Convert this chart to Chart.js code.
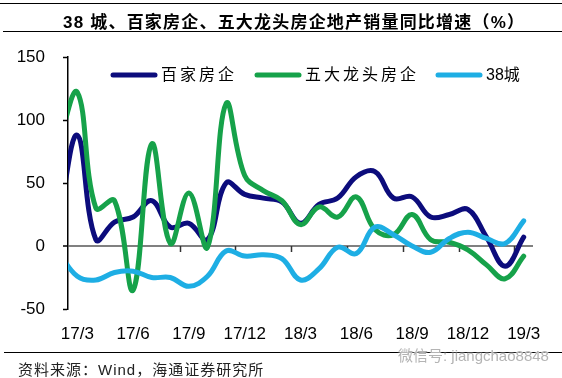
<!DOCTYPE html>
<html>
<head>
<meta charset="utf-8">
<script src="https://cdn.jsdelivr.net/npm/chart.js@4"></script>
<style>
  html, body { margin: 0; padding: 0; background: #fff; }
  #wrap { position: relative; width: 562px; height: 378px; overflow: hidden; }
  #chart { position: absolute; left: 0; top: 0; }
  .rule { position: absolute; height: 1px; background: #000; }
  #title {
    position: absolute; left: 63px; top: 8px; line-height: 24px; white-space: nowrap;
    font: bold 17px "Liberation Sans", "Noto Sans CJK SC", sans-serif; letter-spacing: 1.2px; color: #000;
  }
  #source {
    position: absolute; left: 18px; top: 358px; line-height: 20px; white-space: nowrap;
    font: 15px "Liberation Sans", "Noto Sans CJK SC", sans-serif; letter-spacing: 1px; color: #222;
  }
  #mark {
    position: absolute; left: 398px; top: 344px; line-height: 18px; white-space: nowrap;
    font: 15px "Liberation Sans", "Noto Sans CJK SC", sans-serif; color: #b4b4b4;
    text-shadow: 0 0 2px #fff, 0 0 2px #fff;
  }
</style>
</head>
<body>
<div id="wrap">
  <canvas id="chart" width="562" height="378"></canvas>
  <div class="rule" style="left:0; top:3px; width:562px;"></div>
  <div id="title">38 城、百家房企、五大龙头房企地产销量同比增速（%）</div>
  <div class="rule" style="left:3px; top:31px; width:559px;"></div>
  <div class="rule" style="left:4px; top:352px; width:558px;"></div>
  <div id="source">资料来源：Wind，海通证券研究所</div>
  <div id="mark">微信号: jiangchao8848</div>
</div>
<script>
// monthly points, 17/2 sits half outside the plot on the left
var months = ['17/2', '17/3', '17/4', '17/5', '17/6', '17/7', '17/8', '17/9', '17/10', '17/11', '17/12',
              '18/1', '18/2', '18/3', '18/4', '18/5', '18/6', '18/7', '18/8', '18/9', '18/10', '18/11', '18/12',
              '19/1', '19/2', '19/3'];
var baijia = [20, 88, 5, 19, 23, 36, 15, 18, 5, 50, 41, 38, 35, 18, 33, 38, 55, 59, 38, 39, 23, 25, 29, 7, -16, 7];
var wuda   = [82, 122, 30, 36, -35, 81, 2, 42, -1, 113, 56, 44, 36, 17, 31, 23, 39, 13, 9, 25, 5, 3, -3, -15, -26, -8];
var city38 = [-5, -24, -27, -21, -20, -25, -25, -32, -24, -4, -8, -7, -10, -27, -18, -1, -6, 15, 9, 0, -5, 6, 11, 6, 2, 20];
var seriesNames = ['百家房企', '五大龙头房企', '38城'];
var labelMonths = ['17/3', '17/6', '17/9', '17/12', '18/3', '18/6', '18/9', '18/12', '19/3'];

function toPoints(values) {
    return values.map(function (v, i) { return { x: i, y: v }; });
}

// small tick marks sitting on the zero line, between categories
var zeroTicks = {
    id: 'zeroTicks',
    beforeDatasetsDraw: function (chart) {
        var ctx = chart.ctx, xs = chart.scales.x, ys = chart.scales.y;
        var y0 = ys.getPixelForValue(0);
        ctx.save();
        ctx.strokeStyle = '#333';
        ctx.lineWidth = 1.5;
        labelMonths.slice(1).forEach(function (l) {
            var px = Math.round(xs.getPixelForValue(months.indexOf(l) - 0.5)) + 0.5;
            ctx.beginPath();
            ctx.moveTo(px, y0);
            ctx.lineTo(px, y0 + 6);
            ctx.stroke();
        });
        ctx.restore();
    }
};

// legend drawn inside the plot, short thick line + label
var lineLegend = {
    id: 'lineLegend',
    afterDatasetsDraw: function (chart) {
        var ctx = chart.ctx, area = chart.chartArea;
        var offsets = [45, 189, 370];
        var y = area.top + 18;
        ctx.save();
        ctx.font = '16px "Liberation Sans", "Noto Sans CJK SC", sans-serif';
        ctx.textBaseline = 'middle';
        chart.data.datasets.forEach(function (ds, i) {
            var x0 = area.left + offsets[i];
            ctx.strokeStyle = ds.borderColor;
            ctx.lineWidth = 5;
            ctx.lineCap = 'round';
            ctx.beginPath();
            ctx.moveTo(x0, y);
            ctx.lineTo(x0 + 42, y);
            ctx.stroke();
            ctx.letterSpacing = /^[0-9]/.test(ds.label) ? '0px' : '3px';
            ctx.fillStyle = '#000';
            ctx.fillText(ds.label, x0 + 48, y + 1);
        });
        ctx.restore();
    }
};

function makeSet(label, values, color, order) {
    return {
        label: label,
        data: toPoints(values),
        borderColor: color,
        backgroundColor: color,
        borderWidth: 5,
        tension: 0.4,
        pointRadius: 0,
        borderJoinStyle: 'round',
        borderCapStyle: 'round',
        clip: 0,
        order: order,
    };
}

Chart.defaults.font.family = '"Liberation Sans", Arial, sans-serif';
Chart.defaults.font.size = 17;
Chart.defaults.color = '#000';

new Chart(document.getElementById('chart'), {
    type: 'line',
    data: {
        datasets: [
            makeSet(seriesNames[0], baijia, '#0c0c7c', 3),
            makeSet(seriesNames[1], wuda, '#16a24a', 2),
            makeSet(seriesNames[2], city38, '#1eaee4', 1),
        ],
    },
    plugins: [zeroTicks, lineLegend],
    options: {
        responsive: false,
        animation: false,
        layout: { padding: { left: 0, right: 29, top: 57, bottom: 0 } },
        plugins: {
            legend: { display: false },
            tooltip: { enabled: false },
        },
        scales: {
            x: {
                type: 'linear',
                min: 0.5,
                max: months.length - 0.5,
                afterBuildTicks: function (scale) {
                    scale.ticks = labelMonths.map(function (l) { return { value: months.indexOf(l) }; });
                },
                afterFit: function (scale) { scale.height = 69; },
                grid: { display: false, drawTicks: false },
                border: { display: false },
                ticks: {
                    autoSkip: false,
                    maxRotation: 0,
                    padding: 15,
                    callback: function (value) { return months[value]; },
                },
            },
            y: {
                min: -50,
                max: 150,
                afterFit: function (scale) { scale.width = 68; },
                ticks: { stepSize: 50, padding: 18 },
                border: { display: true, color: '#000', width: 1.5 },
                grid: {
                    color: function (ctx) {
                        return ctx.tick && ctx.tick.value === 0 ? '#808080' : 'rgba(0,0,0,0)';
                    },
                    lineWidth: function (ctx) {
                        return ctx.tick && ctx.tick.value === 0 ? 2 : 1;
                    },
                    drawTicks: true,
                    tickLength: 5,
                    tickColor: '#000',
                    tickWidth: 1.5,
                },
            },
        },
    },
});
</script>
</body>
</html>
